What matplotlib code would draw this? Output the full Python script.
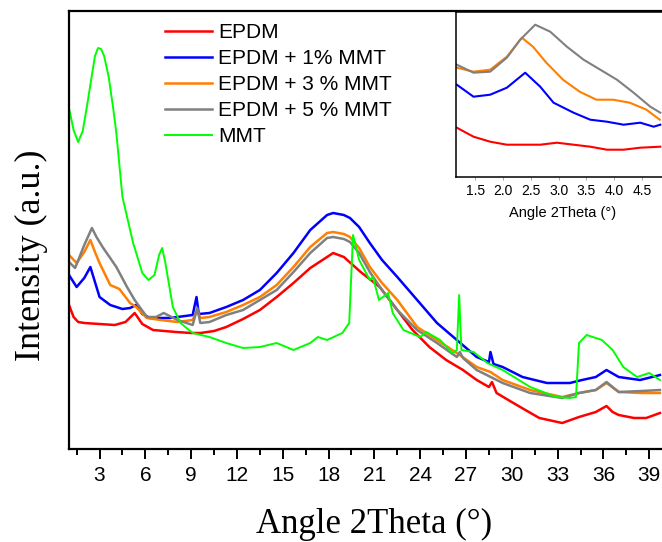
import numpy as np
import matplotlib
matplotlib.use('Agg')
import matplotlib.pyplot as plt
from matplotlib.ticker import MultipleLocator

plt.rcParams['font.family'] = ['Liberation Sans', 'DejaVu Sans']

# Main pattern (2theta in degrees, intensity in a.u.)
epdm_x = [1.0, 1.3, 1.6, 2.0, 3.0, 4.0, 4.7, 5.3, 5.8, 6.5, 8.0, 9.0, 9.6, 10.5, 11.3, 12.4, 13.5,
          14.6, 15.7, 16.8, 17.9, 18.3, 19.0, 20.1, 21.35, 22.5, 23.5, 24.6, 25.7, 26.8, 27.7, 28.5,
          28.7, 29.0, 30.1, 31.0, 31.8, 33.3, 34.4, 35.5, 36.2, 36.6, 37.0, 38.0, 38.8, 39.7]
epdm_y = [144, 132, 127, 126, 125, 124, 127, 136, 125, 119, 117, 116, 116, 118, 122, 130, 139,
          152, 166, 181, 192, 196, 192, 177, 162, 139, 119, 102, 89, 79, 69, 62,
          67, 56, 46, 38, 31, 26, 32, 37, 43, 37, 34, 31, 31, 36]

mmt1_x = [1.0, 1.5, 2.0, 2.4, 2.7, 3.0, 3.7, 4.5, 5.0, 5.4, 5.8, 6.3, 7.6, 9.1, 9.35, 9.5, 10.2,
          11.3, 12.4, 13.5, 14.6, 15.7, 16.8, 17.9, 18.3, 19.0, 19.4, 20.0, 20.7, 21.5, 22.5, 23.8,
          25.1, 26.4, 27.7, 28.5, 28.6, 28.8, 29.4, 30.7, 32.3, 33.8, 34.6, 35.5, 36.2, 37.0, 38.4, 39.7]
mmt1_y = [174, 162, 171, 182, 167, 152, 144, 140, 141, 144, 135, 131, 131, 134, 152, 135, 136,
          142, 149, 159, 176, 196, 219, 234, 236, 234, 231, 222, 206, 189, 172, 149,
          126, 109, 92, 87, 97, 85, 82, 72, 66, 66, 69, 72, 79, 72, 69, 74]

mmt3_x = [1.0, 1.5, 2.0, 2.4, 2.7, 3.0, 3.7, 4.3, 5.0, 5.4, 6.1, 7.0, 8.1, 9.1, 9.4, 9.6, 10.2,
          11.3, 12.4, 13.5, 14.6, 15.7, 16.8, 17.9, 18.3, 19.0, 19.4, 20.0, 20.7, 21.5, 22.5, 23.8,
          25.1, 26.4, 27.7, 28.6, 29.4, 31.2, 33.3, 34.4, 35.5, 36.2, 37.0, 38.5, 39.7]
mmt3_y = [194, 186, 197, 209, 197, 186, 164, 160, 146, 142, 131, 129, 127, 129, 139, 131, 132,
          137, 144, 152, 164, 182, 202, 216, 217, 215, 212, 201, 182, 166, 149, 122,
          109, 96, 82, 77, 69, 59, 52, 56, 59, 66, 57, 56, 56]

mmt5_x = [1.0, 1.4, 2.0, 2.5, 2.8, 3.2, 4.1, 4.8, 5.3, 6.1, 6.7, 7.2, 8.1, 9.1, 9.4, 9.6, 10.2,
          11.3, 12.4, 13.5, 14.6, 15.7, 16.8, 17.9, 18.3, 19.0, 19.4, 20.0, 20.7, 21.5, 22.5, 23.8,
          25.1, 26.4, 26.6, 26.8, 27.7, 29.4, 31.2, 33.3, 34.4, 35.5, 36.2, 37.0, 38.5, 39.7]
mmt5_y = [187, 181, 204, 221, 212, 202, 182, 162, 149, 132, 132, 136, 129, 124, 141, 126, 127,
          134, 139, 149, 159, 177, 196, 211, 212, 210, 207, 196, 177, 159, 139, 119,
          106, 92, 97, 91, 79, 66, 56, 51, 56, 59, 67, 57, 58, 59]

mmt_x = [1.0, 1.3, 1.6, 1.9, 2.2, 2.5, 2.7, 2.9, 3.1, 3.3, 3.6, 3.9, 4.1, 4.5, 5.2, 5.8, 6.2, 6.6,
         6.9, 7.1, 7.3, 7.8, 8.3, 9.1, 10.2, 11.3, 12.4, 13.5, 14.6, 15.7, 16.8, 17.3, 17.9, 18.9,
         19.35, 19.6, 20.0, 20.7, 20.9, 21.3, 21.9, 22.2, 22.9, 24.0, 24.4, 25.3, 26.1, 26.4, 26.55,
         26.7, 27.5, 28.4, 29.4, 31.2, 32.9, 33.8, 34.2, 34.4, 34.9, 35.9, 36.6, 37.3, 38.2, 39.0, 39.7]
mmt_y = [341, 319, 307, 318, 345, 374, 393, 401, 400, 393, 372, 340, 316, 252, 206, 176, 169, 174,
         194, 201, 187, 142, 126, 116, 112, 106, 101, 102, 106, 99, 106, 112, 109, 116,
         126, 214, 189, 169, 172, 149, 156, 136, 119, 112, 117, 109, 96, 99, 154,
         99, 97, 86, 79, 62, 52, 51, 52, 106, 114, 109, 99, 82, 72, 76, 69]

# Inset, low-angle region
in_epdm_x = [1.17, 1.47, 1.77, 2.07, 2.37, 2.67, 2.97, 3.27, 3.57, 3.87, 4.17, 4.47, 4.83]
in_epdm_y = [49, 40, 35, 32, 32, 32, 34, 32, 30, 27, 27, 29, 30]
in_mmt1_x = [1.17, 1.47, 1.77, 2.07, 2.4, 2.67, 2.91, 3.27, 3.57, 3.87, 4.17, 4.47, 4.71, 4.83]
in_mmt1_y = [92, 80, 82, 89, 104, 90, 74, 64, 57, 55, 52, 54, 50, 52]
in_mmt3_x = [1.17, 1.47, 1.77, 2.07, 2.34, 2.54, 2.78, 3.08, 3.38, 3.68, 3.98, 4.28, 4.58, 4.82]
in_mmt3_y = [109, 105, 107, 120, 139, 130, 114, 97, 85, 77, 77, 74, 67, 57]
in_mmt5_x = [1.17, 1.47, 1.77, 2.07, 2.31, 2.58, 2.85, 3.15, 3.45, 3.75, 4.05, 4.35, 4.65, 4.83]
in_mmt5_y = [112, 104, 105, 119, 137, 152, 145, 130, 117, 107, 97, 84, 70, 64]

labels = ['EPDM', 'EPDM + 1% MMT', 'EPDM + 3 % MMT', 'EPDM + 5 % MMT', 'MMT']
colors = ['#ff0000', '#0000ff', '#ff7f00', '#808080', '#00ff00']

W, H = 662, 542
fig = plt.figure(figsize=(W / 100, H / 100), dpi=100)

# main axes, right edge runs past the canvas like the original crop
ax = fig.add_axes([69 / W, (H - 449) / H, 40 * 15.27 / W, 438 / H])
main = [(epdm_x, epdm_y), (mmt1_x, mmt1_y), (mmt3_x, mmt3_y), (mmt5_x, mmt5_y), (mmt_x, mmt_y)]
for (x, y), c, lab in zip(main, colors, labels):
    ax.plot(x, y, color=c, lw=1.8 if lab != 'MMT' else 1.4, label=lab)

ax.set_xlim(1, 41)
ax.set_ylim(0, 438)
ax.xaxis.set_minor_locator(MultipleLocator(1.5))
ax.set_xticks([3, 6, 9, 12, 15, 18, 21, 24, 27, 30, 33, 36, 39])
ax.set_yticks([])
ax.tick_params(axis='x', which='major', direction='out', length=7, width=1.4, labelsize=15, pad=5)
ax.tick_params(axis='x', which='minor', direction='out', length=4, width=1.4)
for s in ax.spines.values():
    s.set_linewidth(1.6)

ax.set_xlabel('Angle 2Theta (°)', family=['Liberation Serif', 'DejaVu Serif'], fontsize=25, labelpad=17)
ax.set_ylabel('Intensity (a.u.)', family=['Liberation Serif', 'DejaVu Serif'], fontsize=26)
ax.yaxis.set_label_coords(-0.034, 0.443)

ax.legend(loc='upper left', bbox_to_anchor=(165 / W, 1 - 23 / H), bbox_transform=fig.transFigure,
          frameon=False, fontsize=15, handlelength=2.25, handletextpad=0.3, labelspacing=0.34,
          borderpad=0, borderaxespad=0)

# inset
ins = fig.add_axes([455.7 / W, (H - 176.7) / H, 3.85 * 55.6 / W, 165 / H])
inset = [(in_epdm_x, in_epdm_y), (in_mmt1_x, in_mmt1_y), (in_mmt3_x, in_mmt3_y), (in_mmt5_x, in_mmt5_y)]
for (x, y), c in zip(inset, colors):
    ins.plot(x, y, color=c, lw=1.5)
ins.set_xlim(1.15, 5.0)
ins.set_ylim(0, 165)
ins.set_xticks([1.5, 2.0, 2.5, 3.0, 3.5, 4.0, 4.5])
ins.set_yticks([])
ins.tick_params(axis='x', length=2, width=0.6, color='#999999', labelsize=10, pad=3)
ins.set_xlabel('Angle 2Theta (°)', fontsize=10.5, labelpad=6)
for s in ins.spines.values():
    s.set_linewidth(1.1)

fig.savefig('out.png', dpi=100)
